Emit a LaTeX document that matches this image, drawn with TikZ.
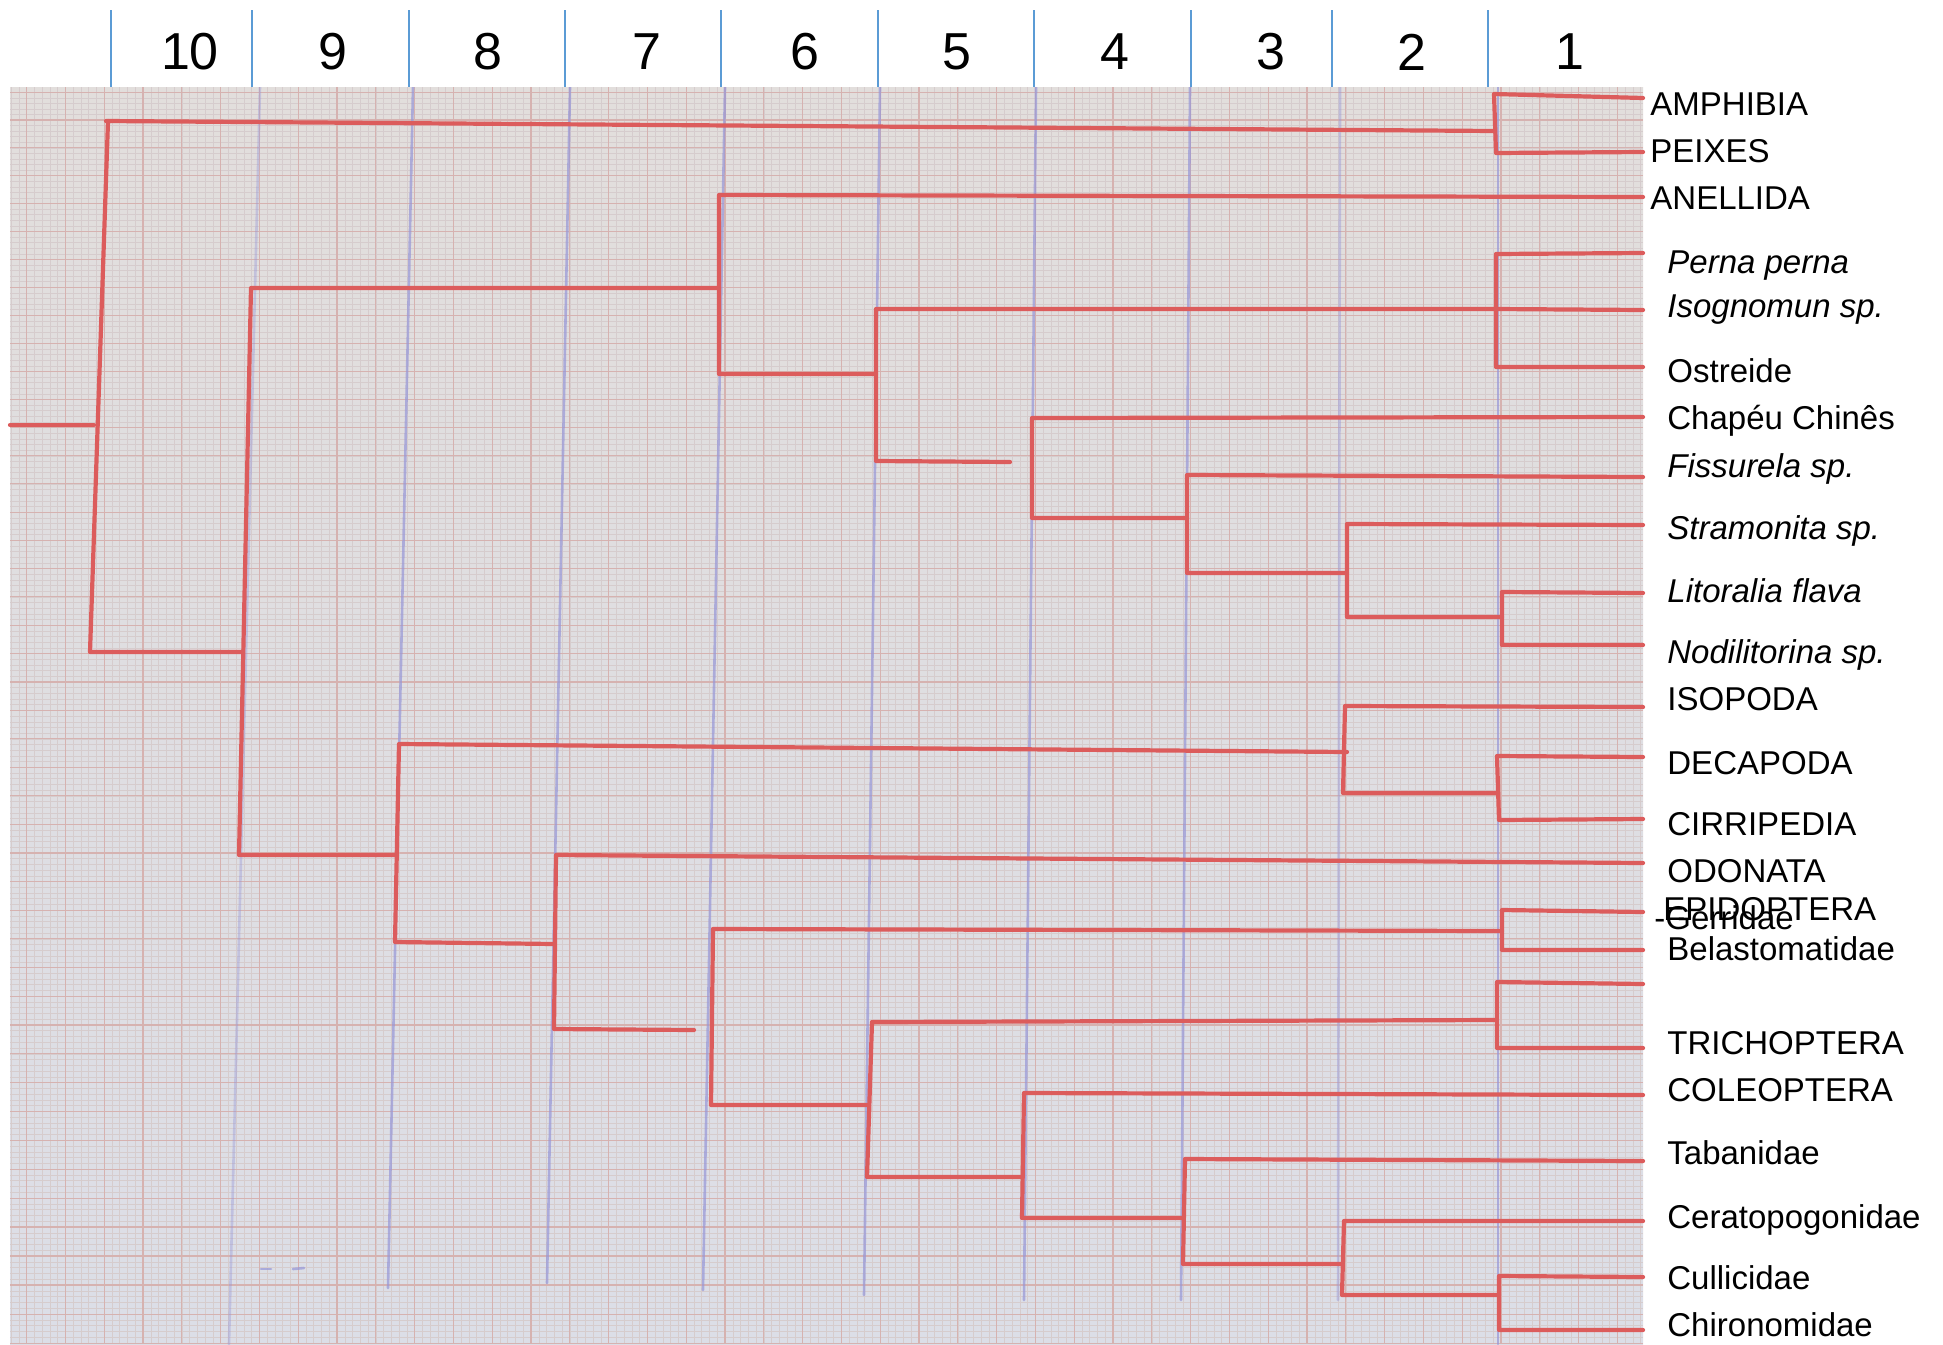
\documentclass[tikz,border=0pt]{standalone}
\usepackage{fontspec}
\setmainfont{Liberation Sans}
\definecolor{paperA}{RGB}{226,222,220}
\definecolor{paperB}{RGB}{220,222,231}
\definecolor{gridmin}{RGB}{214,204,205}
\definecolor{gridmaj}{RGB}{214,178,176}
\definecolor{penred}{RGB}{220,92,92}
\definecolor{penblue}{RGB}{150,150,215}
\definecolor{tickblue}{RGB}{91,155,213}
\tikzset{
  pen/.style={draw=penred,line width=2.1pt,line cap=round,line join=round},
  bluepen/.style={draw=penblue,line width=1.3pt,opacity=0.7,line cap=round},
  tickline/.style={draw=tickblue,line width=1pt},
  lbl/.style={anchor=base west,inner sep=0pt,font=\fontsize{16.5pt}{18pt}\selectfont},
  lblit/.style={lbl,font=\fontsize{16.5pt}{18pt}\selectfont\itshape},
  num/.style={anchor=center,inner sep=0pt,font=\fontsize{26pt}{28pt}\selectfont}
}
\begin{document}
\begin{tikzpicture}[x=0.5pt,y=-0.5pt]
\useasboundingbox (0,0) rectangle (1943,1344);
\fill[white] (0,0) rectangle (1943,1344);
% header ticks and numbers
\foreach \tx in {111,252,409,565,721,878,1034,1191,1332,1488}
  \draw[tickline] (\tx,10) -- (\tx,87);
\node[num] (n10) at (190,52) {10};
\node[num] (n9) at (333,52) {9};
\node[num] (n8) at (488,52) {8};
\node[num] (n7) at (647,52) {7};
\node[num] (n6) at (805,52) {6};
\node[num] (n5) at (957,52) {5};
\node[num] (n4) at (1115,52) {4};
\node[num] (n3) at (1271,52) {3};
\node[num] (n2) at (1412,52) {2};
\node[num] (n1) at (1570,52) {1};
% paper
\shade[top color=paperA,bottom color=paperB] (10,87) rectangle (1643,1344);
\begin{scope}
\clip (10,87) rectangle (1643,1344);
\foreach \m in {-17,...,193}
  \draw[gridmin,line width=0.25pt] ({143+7.76*\m},87) -- ({143+7.76*\m},1344);
\foreach \j in {-6,...,215}{
  \pgfmathsetmacro\tt{\j/5}
  \pgfmathsetmacro\yy{120+27.8*\tt+0.015*\tt*\tt}
  \draw[gridmin,line width=0.25pt] (10,\yy) -- (1643,\yy);
}
\foreach \k in {-3,...,38}
  \draw[gridmaj,line width=0.55pt] ({143+38.8*\k},87) -- ({143+38.8*\k},1344);
\foreach \t in {-1,...,43}{
  \pgfmathsetmacro\yy{120+27.8*\t+0.015*\t*\t}
  \draw[gridmaj,line width=0.55pt] (10,\yy) -- (1643,\yy);
}
% blue pen lines
\draw[bluepen,opacity=0.4] (260,87) -- (229,1344);
\draw[bluepen] (413,87) -- (388,1288);
\draw[bluepen] (570,87) -- (547,1283);
\draw[bluepen] (725,87) -- (703,1290);
\draw[bluepen] (880,87) -- (864,1295);
\draw[bluepen] (1036,87) -- (1024,1300);
\draw[bluepen] (1190,87) -- (1181,1300);
\draw[bluepen,opacity=0.45] (1340,87) -- (1338,1300);
\draw[bluepen] (1498,87) -- (1498,1344);
\draw[bluepen] (261,1269) -- (271,1269);
\draw[bluepen] (293,1269) -- (304,1268);
\end{scope}
% dendrogram
\draw[pen] (10,425) -- (94,425);
\draw[pen] (106,121) -- (1494,131);
\draw[pen] (1643,98) -- (1494,94) -- (1496,153) -- (1643,152);
\draw[pen] (108,121) -- (90,652) -- (242,652);
\draw[pen] (719,288) -- (251,288) -- (239,855) -- (397,855);
\draw[pen] (1643,197) -- (719,195) -- (719,374) -- (876,374);
\draw[pen] (1496,309) -- (876,309) -- (876,461) -- (1010,462);
\draw[pen] (1643,253) -- (1496,254) -- (1496,367) -- (1643,367);
\draw[pen] (1496,309) -- (1643,310);
\draw[pen] (1643,417) -- (1032,418) -- (1032,518) -- (1187,518);
\draw[pen] (1643,477) -- (1187,475) -- (1187,573) -- (1347,573);
\draw[pen] (1643,525) -- (1347,524) -- (1347,617) -- (1502,617);
\draw[pen] (1643,593) -- (1502,592) -- (1502,645) -- (1643,645);
\draw[pen] (1347,752) -- (399,744) -- (395,942) -- (554,944);
\draw[pen] (1643,707) -- (1345,706) -- (1343,793) -- (1497,793);
\draw[pen] (1643,757) -- (1497,756) -- (1499,820) -- (1643,819);
\draw[pen] (1643,863) -- (556,855) -- (554,1029) -- (694,1030);
\draw[pen] (1502,931) -- (713,929) -- (711,1105) -- (867,1105);
\draw[pen] (1643,912) -- (1502,910) -- (1502,950) -- (1643,950);
\draw[pen] (1497,1020) -- (872,1022) -- (867,1177) -- (1022,1177);
\draw[pen] (1643,984) -- (1497,982) -- (1497,1048) -- (1643,1048);
\draw[pen] (1643,1095) -- (1024,1093) -- (1022,1218) -- (1183,1218);
\draw[pen] (1643,1161) -- (1185,1159) -- (1183,1264) -- (1342,1264);
\draw[pen] (1643,1221) -- (1344,1221) -- (1342,1295) -- (1499,1295);
\draw[pen] (1643,1277) -- (1499,1276) -- (1499,1330) -- (1643,1330);
% labels
\node[lbl] (amph) at (1650,115) {AMPHIBIA};
\node[lbl] (peix) at (1650,162) {PEIXES};
\node[lbl] (anel) at (1650,209) {ANELLIDA};
\node[lblit] (perna) at (1667,273) {Perna perna};
\node[lblit] (isog) at (1667,317) {Isognomun sp.};
\node[lbl] (ostr) at (1667,382) {Ostreide};
\node[lbl] (chap) at (1667,429) {Chapéu Chinês};
\node[lblit] (fiss) at (1667,477) {Fissurela sp.};
\node[lblit] (stram) at (1667,539) {Stramonita sp.};
\node[lblit] (litor) at (1667,602) {Litoralia flava};
\node[lblit] (nodil) at (1667,663) {Nodilitorina sp.};
\node[lbl] (isop) at (1667,710) {ISOPODA};
\node[lbl] (deca) at (1667,774) {DECAPODA};
\node[lbl] (cirr) at (1667,835) {CIRRIPEDIA};
\node[lbl] (odon) at (1667,882) {ODONATA};
\node[lbl] (lepi) at (1663,920) {EPIDOPTERA};
\node[lbl] (gerr) at (1654,929) {-Gerridae};
\node[lbl] (bela) at (1667,960) {Belastomatidae};
\node[lbl] (tric) at (1667,1054) {TRICHOPTERA};
\node[lbl] (cole) at (1667,1101) {COLEOPTERA};
\node[lbl] (taba) at (1667,1164) {Tabanidae};
\node[lbl] (cera) at (1667,1228) {Ceratopogonidae};
\node[lbl] (cull) at (1667,1289) {Cullicidae};
\node[lbl] (chir) at (1667,1336) {Chironomidae};
\end{tikzpicture}
\end{document}
